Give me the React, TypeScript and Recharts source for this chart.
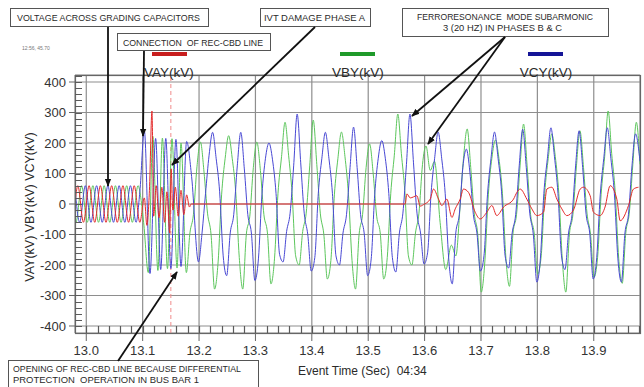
import { LineChart, Line, XAxis, YAxis, CartesianGrid, ReferenceLine } from 'recharts'

type Pt = [number, number]

const FONT = '"Liberation Sans", Arial, sans-serif'

const timeTicks = [13.0, 13.1, 13.2, 13.3, 13.4, 13.5, 13.6, 13.7, 13.8, 13.9]
const voltTicks = [-400, -300, -200, -100, 0, 100, 200, 300, 400]
const seriesNames = ['VAY(kV)', 'VBY(kV)', 'VCY(kV)']
const breakerOpen = 13.15

// phase A (red): spike at connection, then dead until ~13.57, then small noisy wave
const vay: Pt[] = [
  [12.98, 0], [12.985, 60], [12.995, -60], [13.005, 60], [13.015, -60], [13.025, 60], [13.035, -60],
  [13.045, 60], [13.055, -60], [13.065, 60], [13.075, -60], [13.085, 60], [13.095, -60],
  [13.103, 20], [13.1075, -70], [13.112, 45], [13.1165, 305], [13.1195, -40], [13.124, 60], [13.129, -45],
  [13.134, 55], [13.139, -60], [13.143, 40], [13.148, -95], [13.1505, 115], [13.1535, -20], [13.158, 55],
  [13.163, -40], [13.168, 45], [13.173, -35], [13.178, 30], [13.183, -10], [13.186, 0],
  [13.5656, 0], [13.5686, 33], [13.5745, 20], [13.5863, 27], [13.5922, -7], [13.5981, -2], [13.6099, 16],
  [13.6158, 49], [13.6247, 16], [13.6306, -5], [13.6395, 16], [13.6484, -44], [13.6543, -16], [13.6631, 16],
  [13.669, 49], [13.6779, 38], [13.6897, -27], [13.6986, -49], [13.7104, -27], [13.7193, -5], [13.728, -38],
  [13.74, -10], [13.7577, 16], [13.7636, 38], [13.7695, 49], [13.7813, 16], [13.7902, -16], [13.7991, -38],
  [13.8109, -27], [13.8168, 49], [13.8257, 55], [13.8346, 16], [13.8434, -16], [13.8523, -38], [13.864, -20],
  [13.8759, 49], [13.8818, 55], [13.8936, 27], [13.8995, -27], [13.9113, -38], [13.92, -10], [13.9291, 60],
  [13.9409, 16], [13.9468, -55], [13.9616, -5], [13.9704, 49], [13.9793, 55],
]

// phase B (green)
const vby: Pt[] = [
  [12.98, -52], [12.9817, -60], [12.9917, 60], [13.0017, -60], [13.0117, 60], [13.0217, -60], [13.0317, 60],
  [13.0417, -60], [13.0517, 60], [13.0617, -60], [13.0717, 60], [13.0817, -60], [13.0917, 60], [13.1017, -60],
  [13.11, -225], [13.118, 222], [13.127, -218], [13.135, 216], [13.144, -212], [13.152, 214], [13.161, -210],
  [13.168, 200], [13.1775, -225], [13.1838, -95], [13.19, -35], [13.1963, 122],
  [13.2025, 203], [13.2088, 105], [13.215, -30], [13.2213, -100], [13.2275, -279], [13.2338, -190], [13.24, 30], [13.2463, 150],
  [13.2525, 224], [13.2588, 150], [13.265, 40], [13.2713, -175], [13.2775, -279], [13.2838, -100], [13.29, -40], [13.2963, 120],
  [13.3025, 203], [13.3088, 110], [13.315, -35], [13.3213, -95], [13.3275, -262], [13.3338, -180], [13.34, 35], [13.3463, 155],
  [13.3525, 268], [13.3588, 160], [13.365, 35], [13.3713, -170], [13.3775, -200], [13.3838, -90], [13.39, -30], [13.3963, 125],
  [13.4025, 275], [13.4088, 130], [13.415, -30], [13.4213, -100], [13.4275, -246], [13.4338, -185], [13.44, 30], [13.4463, 150],
  [13.4525, 236], [13.4588, 155], [13.465, 30], [13.4713, -185], [13.4775, -279], [13.4838, -100], [13.49, -35], [13.4963, 120],
  [13.5025, 197], [13.5088, 100], [13.515, -40], [13.5213, -95], [13.5275, -246], [13.5338, -175], [13.54, 35], [13.5463, 160],
  [13.5525, 295], [13.5588, 165], [13.565, 40], [13.5713, -170], [13.5775, -200], [13.5838, -95], [13.59, -30], [13.5963, 130],
  [13.6025, 190], [13.61, 110], [13.6175, 140], [13.6275, -60], [13.6375, -215], [13.6475, -135], [13.6555, -170], [13.6625, -20], [13.669, 150],
  [13.6755, 246], [13.6818, 120], [13.688, -30], [13.6943, -100], [13.7005, -289], [13.7068, -190], [13.713, 30], [13.7193, 150],
  [13.7255, 210], [13.7318, 150], [13.738, 35], [13.7443, -180], [13.7505, -270], [13.7568, -95], [13.763, -35], [13.7693, 125],
  [13.7755, 262], [13.7818, 125], [13.788, -35], [13.7943, -95], [13.8005, -230], [13.8068, -170], [13.813, 35], [13.8193, 150],
  [13.8255, 230], [13.8318, 155], [13.838, 35], [13.8443, -185], [13.8505, -289], [13.8568, -100], [13.863, -35], [13.8693, 125],
  [13.8755, 240], [13.8818, 120], [13.888, -30], [13.8943, -100], [13.9005, -240], [13.9068, -175], [13.913, 30], [13.9193, 155],
  [13.9255, 305], [13.9318, 165], [13.938, 40], [13.9443, -180], [13.9505, -260], [13.9568, -95], [13.963, -30], [13.9693, 130],
  [13.9755, 268], [13.982, 130],
]

// phase C (blue)
const vcy: Pt[] = [
  [12.98, 52], [12.9883, -60], [12.9983, 60], [13.0083, -60], [13.0183, 60], [13.0283, -60], [13.0383, 60],
  [13.0483, -60], [13.0583, 60], [13.0683, -60], [13.0783, 60], [13.0883, -60], [13.095, 40],
  [13.103, 240], [13.113, -228], [13.123, 215], [13.132, -215], [13.141, 215], [13.15, -212], [13.159, 212],
  [13.168, -205], [13.178, 205], [13.1868, 90], [13.199, -190], [13.2053, -95], [13.2115, 35], [13.2178, 160],
  [13.224, 235], [13.2303, 150], [13.2365, 40], [13.2428, -170], [13.249, -235], [13.2553, -95], [13.2615, -35], [13.2678, 125],
  [13.274, 235], [13.2803, 115], [13.2865, -35], [13.2928, -95], [13.299, -251], [13.3053, -180], [13.3115, 30], [13.3178, 150],
  [13.324, 200], [13.3303, 145], [13.3365, 35], [13.3428, -165], [13.349, -190], [13.3553, -90], [13.3615, -30], [13.3678, 125],
  [13.374, 295], [13.3803, 135], [13.3865, -30], [13.3928, -100], [13.399, -220], [13.4053, -175], [13.4115, 35], [13.4178, 150],
  [13.424, 235], [13.4303, 150], [13.4365, 35], [13.4428, -170], [13.449, -200], [13.4553, -95], [13.4615, -35], [13.4678, 120],
  [13.474, 252], [13.4803, 120], [13.4865, -35], [13.4928, -95], [13.499, -235], [13.5053, -180], [13.5115, 30], [13.5178, 150],
  [13.524, 208], [13.5303, 150], [13.5365, 35], [13.5428, -175], [13.549, -223], [13.5553, -95], [13.5615, -30], [13.5678, 130],
  [13.574, 295], [13.5803, 135], [13.5865, -30], [13.5928, -95], [13.599, -197], [13.6053, -160], [13.6115, 35], [13.6178, 150],
  [13.624, 236], [13.6303, 150], [13.6365, 35], [13.6428, -180], [13.649, -262], [13.6553, -95], [13.6615, -35], [13.6678, 120],
  [13.674, 180], [13.6803, 105], [13.6865, -35], [13.6928, -95], [13.699, -220], [13.7053, -170], [13.7115, 30], [13.7178, 150],
  [13.724, 236], [13.7303, 150], [13.7365, 40], [13.7428, -170], [13.749, -210], [13.7553, -95], [13.7615, -35], [13.7678, 125],
  [13.774, 245], [13.7803, 120], [13.7865, -30], [13.7928, -100], [13.799, -256], [13.8053, -180], [13.8115, 35], [13.8178, 150],
  [13.824, 250], [13.8303, 155], [13.8365, 35], [13.8428, -170], [13.849, -215], [13.8553, -95], [13.8615, -35], [13.8678, 125],
  [13.874, 240], [13.8803, 120], [13.8865, -35], [13.8928, -95], [13.899, -246], [13.9053, -175], [13.9115, 30], [13.9178, 150],
  [13.924, 250], [13.9303, 150], [13.9365, 35], [13.9428, -180], [13.949, -256], [13.9553, -95], [13.9615, -35], [13.9678, 125],
  [13.974, 230], [13.982, 140],
]

const X_DOMAIN: [number, number] = [12.98, 13.982]
const Y_DOMAIN: [number, number] = [-423, 423]

// plot box (margin.left + YAxis width, margin.top, ...)
const PLOT = { left: 75, top: 75, width: 565, height: 258 }

// minor tick marks along the left and bottom edges of the plot frame
const minorTime = Array.from({ length: 50 }, (_, i) => Math.round((13.0 + i * 0.02) * 100) / 100)
const minorVolt = Array.from({ length: 42 }, (_, i) => -400 + i * 20)

const px = (t: number) => PLOT.left + ((t - X_DOMAIN[0]) / (X_DOMAIN[1] - X_DOMAIN[0])) * PLOT.width
const py = (v: number) => PLOT.top + ((Y_DOMAIN[1] - v) / (Y_DOMAIN[1] - Y_DOMAIN[0])) * PLOT.height

const rows = (pts: Pt[]) => pts.map(([t, v]) => ({ t, v }))

const txt = { fontFamily: FONT, fill: '#2a2a2a' }

function MinorTicks() {
  const bottom = PLOT.top + PLOT.height
  const d =
    minorVolt.map((v) => `M${PLOT.left},${Math.round(py(v)) + 0.5}h7`).join('') +
    minorTime.map((t) => `M${Math.round(px(t)) + 0.5},${bottom}v-7`).join('')
  return <path d={d} stroke="#5a5a5a" strokeWidth={1.2} fill="none" />
}

function Callouts() {
  return (
    <svg
      width={644}
      height={387}
      style={{ position: 'absolute', left: 0, top: 0, pointerEvents: 'none', fontFamily: FONT }}
    >
      <defs>
        <marker id="ah" viewBox="0 0 10 10" refX="9" refY="5" markerWidth="4.5" markerHeight="4.5" orient="auto">
          <path d="M0,1 L10,5 L0,9 z" fill="#111" />
        </marker>
      </defs>
      {/* plot frame and its minor ticks */}
      <rect x={75.5} y={75.5} width={565} height={258} fill="none" stroke="#666" strokeWidth={1.2} />
      <MinorTicks />

      {/* legend */}
      <rect x={152} y={52} width={35} height={4} fill="#c81e1e" />
      <rect x={340} y={52} width={35} height={4} fill="#1f9a2a" />
      <rect x={528} y={52} width={35} height={4} fill="#151597" />
      <text x={169} y={77} textAnchor="middle" fontSize={13.5} {...txt}>{seriesNames[0]}</text>
      <text x={358} y={77} textAnchor="middle" fontSize={13.5} {...txt}>{seriesNames[1]}</text>
      <text x={546} y={77} textAnchor="middle" fontSize={13.5} {...txt}>{seriesNames[2]}</text>

      <text x={22} y={50} fontSize={5} fill="#777" fontFamily={FONT}>12:56, 45.70</text>

      {/* axis titles */}
      <text
        transform="translate(34,207) rotate(-90)"
        textAnchor="middle"
        fontSize={12.5}
        {...txt}
      >
        VAY(kV) VBY(kV) VCY(kV)
      </text>
      <text x={298} y={375} fontSize={12} style={{ whiteSpace: 'pre' }} {...txt}>
        {'Event Time (Sec)  04:34'}
      </text>

      {/* callout boxes */}
      <g fontSize={9} {...txt}>
        <rect x={10.5} y={8.5} width={198} height={18} fill="#fff" stroke="#555" />
        <text x={17} y={21} textLength={183} lengthAdjust="spacingAndGlyphs">VOLTAGE ACROSS GRADING CAPACITORS</text>

        <rect x={117.5} y={33.5} width={153} height={17} fill="#fff" stroke="#555" />
        <text x={123} y={45.5} textLength={140} lengthAdjust="spacingAndGlyphs" style={{ whiteSpace: 'pre' }}>
          {'CONNECTION  OF REC-CBD LINE'}
        </text>

        <rect x={260.5} y={8.5} width={110} height={18} fill="#fff" stroke="#555" />
        <text x={264} y={21} textLength={101} lengthAdjust="spacingAndGlyphs">IVT DAMAGE PHASE A</text>

        <rect x={402.5} y={8.5} width={206} height={28} fill="#fff" stroke="#555" />
        <text x={417} y={20} textLength={176} lengthAdjust="spacingAndGlyphs" style={{ whiteSpace: 'pre' }}>
          {'FERRORESONANCE  MODE SUBARMONIC'}
        </text>
        <text x={443} y={31} textLength={119} lengthAdjust="spacingAndGlyphs">3 (20 HZ) IN PHASES B &amp; C</text>

        <rect x={8.5} y={360.5} width={250} height={30} fill="#fff" stroke="#555" />
        <text x={13} y={372} textLength={228} lengthAdjust="spacingAndGlyphs">OPENING OF REC-CBD LINE BECAUSE DIFFERENTIAL</text>
        <text x={13} y={383} textLength={186} lengthAdjust="spacingAndGlyphs" style={{ whiteSpace: 'pre' }}>
          {'PROTECTION  OPERATION IN BUS BAR 1'}
        </text>
      </g>

      {/* arrows */}
      <g stroke="#111" strokeWidth={1.8} markerEnd="url(#ah)">
        <line x1={108} y1={27} x2={108} y2={186} />
        <line x1={144} y1={51} x2={143} y2={136} />
        <line x1={315} y1={27} x2={172} y2={165} />
        <line x1={505} y1={37} x2={412} y2={116} />
        <line x1={505} y1={37} x2={428} y2={144} />
        <line x1={118} y1={361} x2={177} y2={272} />
      </g>
    </svg>
  )
}

export default function App() {
  return (
    <div
      style={{
        position: 'absolute',
        left: 0,
        top: 0,
        width: 644,
        height: 387,
        background: '#fff',
        overflow: 'hidden',
      }}
    >
      <LineChart width={644} height={387} margin={{ top: 75, right: 4, bottom: 24, left: 30 }} style={{ fontFamily: FONT }}>
        <CartesianGrid stroke="#8e8e8e" strokeWidth={1.2} />
        <XAxis
          dataKey="t"
          type="number"
          domain={X_DOMAIN}
          allowDataOverflow
          ticks={timeTicks}
          interval={0}
          tickFormatter={(v: number) => v.toFixed(1)}
          tickSize={8}
          tickMargin={5}
          height={30}
          axisLine={false}
          tickLine={{ stroke: '#666' }}
          tick={{ fontSize: 13, fill: '#333' }}
        />
        <YAxis
          type="number"
          domain={Y_DOMAIN}
          allowDataOverflow
          ticks={voltTicks}
          interval={0}
          width={45}
          tickSize={6}
          tickMargin={3}
          axisLine={false}
          tickLine={{ stroke: '#666' }}
          tick={{ fontSize: 13, fill: '#333' }}
        />
        <ReferenceLine x={breakerOpen} stroke="#f08c8c" strokeDasharray="4 3" />
        <Line
          data={rows(vby)}
          dataKey="v"
          type="monotone"
          stroke="#5cc65c"
          strokeWidth={1}
          dot={false}
          isAnimationActive={false}
        />
        <Line
          data={rows(vcy)}
          dataKey="v"
          type="monotone"
          stroke="#4848d4"
          strokeWidth={1}
          dot={false}
          isAnimationActive={false}
        />
        <Line
          data={rows(vay)}
          dataKey="v"
          type="monotone"
          stroke="#e42a2a"
          strokeWidth={1}
          dot={false}
          isAnimationActive={false}
        />
      </LineChart>
      <Callouts />
    </div>
  )
}
